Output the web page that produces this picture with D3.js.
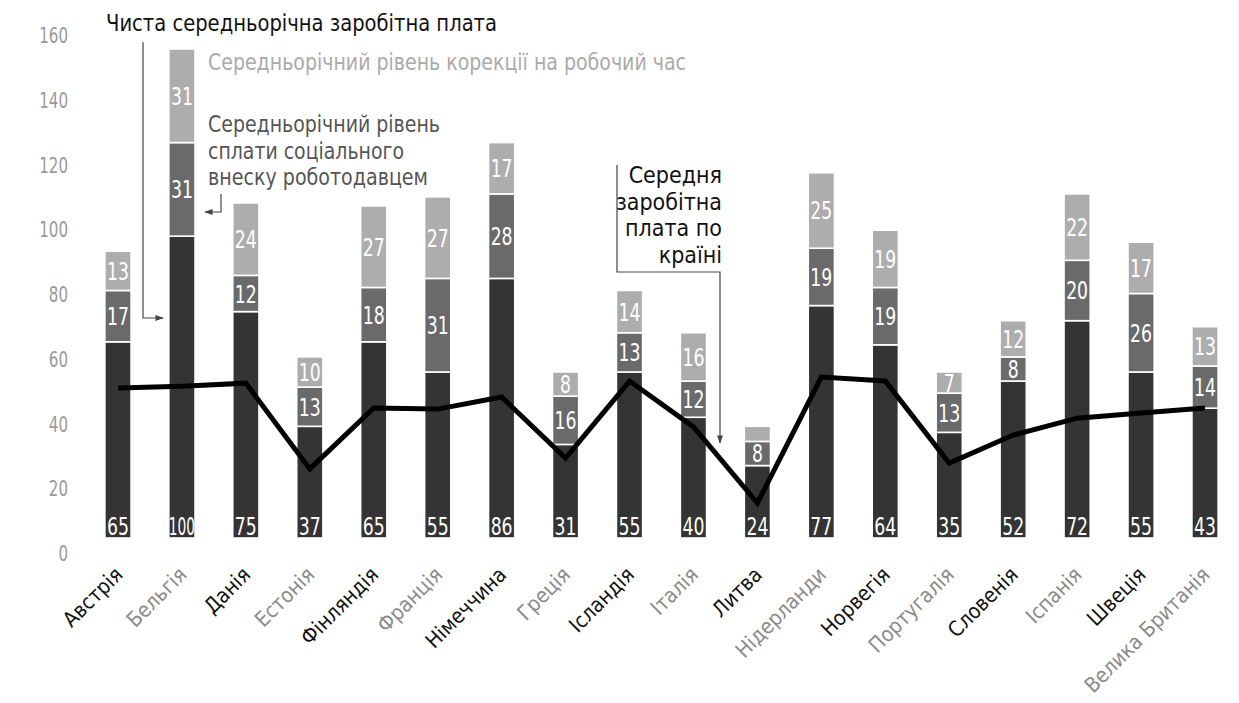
<!DOCTYPE html>
<html>
<head>
<meta charset="utf-8">
<script src="https://cdn.jsdelivr.net/npm/d3@7"></script>
<style>
  html, body { margin: 0; padding: 0; background: #fff; }
  svg { display: block; }
  text { font-family: "DejaVu Sans Condensed", "Liberation Sans Narrow", sans-serif; font-stretch: condensed; }
</style>
</head>
<body>
<svg id="chart" width="1239" height="703"></svg>
<script>
const countries = ["Австрія","Бельгія","Данія","Естонія","Фінляндія","Франція","Німеччина","Греція","Ісландія","Італія","Литва","Нідерланди","Норвегія","Португалія","Словенія","Іспанія","Швеція","Велика Британія"];
const netWage   = [65,100,75,37,65,55,86,31,55,40,24,77,64,35,52,72,55,43];
const socialContribution = [17,31,12,13,18,31,28,16,13,12,8,19,19,13,8,20,26,14];
const hoursCorrection    = [13,31,24,10,27,27,17,8,14,16,5,25,19,7,12,22,17,13];
const countryAverageWage = [49.7,50.3,51.3,22.9,43.1,42.7,46.7,26.5,52.0,36.8,11.6,53.3,52.0,24.8,34.1,39.7,41.4,43.1];
const yTicks = [0,20,40,60,80,100,120,140,160];

const seriesKeys = ["net","social","hours"];
const seriesColors = {net:"#333433", social:"#6a6a6a", hours:"#adadad"};

const rows = countries.map((c,i)=>({country:c, net:netWage[i], social:socialContribution[i], hours:hoursCorrection[i], avg:countryAverageWage[i]}));

const svg = d3.select("#chart");

const x = d3.scaleBand().domain(countries).range([86,1237]).paddingInner(0.59).paddingOuter(0.295);
const y = d3.scaleLinear().domain([0,162]).range([538,49]);       // marks
const yAxisScale = d3.scaleLinear().domain([0,160]).range([553,35]); // printed tick labels

// y axis labels
const yAxis = d3.axisLeft(yAxisScale).tickValues(yTicks).tickSize(0).tickPadding(0);
const gy = svg.append("g").attr("transform","translate(68,0)").call(yAxis);
gy.select(".domain").remove();
gy.selectAll("text")
  .attr("fill","#9a9a9a")
  .style("font-size","21px")
  .style("font-family",'"DejaVu Sans Condensed",sans-serif')
  .attr("dy","0.36em")
  .each(function(d){ d3.select(this).attr("textLength", String(d).length*9.6).attr("lengthAdjust","spacingAndGlyphs"); });

// stacked bars
const stack = d3.stack().keys(seriesKeys);
const stacked = stack(rows);

const gBars = svg.append("g");
stacked.forEach(layer=>{
  const key = layer.key;
  gBars.append("g").selectAll("rect").data(layer).join("rect")
    .attr("x", d=>x(d.data.country))
    .attr("width", x.bandwidth())
    .attr("y", d=>y(d[1]))
    .attr("height", d=>y(d[0])-y(d[1]))
    .attr("fill", seriesColors[key])
    .attr("stroke","#fff").attr("stroke-width",1.6);
});

// line
const line = d3.line().x(d=>x(d.country)+x.bandwidth()/2).y(d=>y(d.avg)).curve(d3.curveLinear);
svg.append("path").datum(rows).attr("d",line).attr("fill","none").attr("stroke","#000").attr("stroke-width",5).attr("stroke-linejoin","miter");

// value labels
const gLab = svg.append("g");
stacked.forEach(layer=>{
  const key = layer.key;
  layer.forEach(d=>{
    const v = d.data[key];
    const h = y(d[0])-y(d[1]);
    if (h < 18) return;
    const cx = x(d.data.country)+x.bandwidth()/2;
    const t = gLab.append("text")
      .attr("x", cx)
      .attr("text-anchor","middle")
      .attr("fill","#fff")
      .style("font-size","25px")
      .text(v);
    if (key==="net") {
      t.attr("y", y(0)-3);
    } else {
      t.attr("y", (y(d[0])+y(d[1]))/2).attr("dy","0.36em");
    }
    const len = Math.min(String(v).length*11, x.bandwidth());
    t.attr("textLength", len).attr("lengthAdjust","spacingAndGlyphs");
  });
});

// x labels
const gx = svg.append("g");
countries.forEach((c,i)=>{
  gx.append("text")
    .attr("transform",`translate(${x(c)+x.bandwidth()/2+6},576) rotate(-45)`)
    .attr("text-anchor","end")
    .attr("fill", i%2===0 ? "#111" : "#8a8a8a")
    .style("font-size","21px")
    .text(c);
});

// annotations
const defs = svg.append("defs");
defs.append("marker").attr("id","arr").attr("viewBox","0 0 10 10").attr("refX",9).attr("refY",5)
  .attr("markerWidth",7).attr("markerHeight",7).attr("orient","auto-start-reverse")
  .append("path").attr("d","M0,1.5 L10,5 L0,8.5 Z").attr("fill","#444");

function fitText(sel, w){ sel.attr("textLength", w).attr("lengthAdjust","spacingAndGlyphs"); return sel; }

fitText(svg.append("text").attr("x",106).attr("y",31).attr("fill","#111").style("font-size","23px")
  .text("Чиста середньорічна заробітна плата"), 391);
svg.append("path").attr("d","M143,42 V318 H163").attr("fill","none").attr("stroke","#444").attr("stroke-width",1.2).attr("marker-end","url(#arr)");

fitText(svg.append("text").attr("x",208).attr("y",70).attr("fill","#aaa").style("font-size","23px")
  .text("Середньорічний рівень корекції на робочий час"), 478);

const socialLines = [["Середньорічний рівень",232],["сплати соціального",196],["внеску роботодавцем",220]];
socialLines.forEach((l,i)=>{
  fitText(svg.append("text").attr("x",208).attr("y",132+i*26.5).attr("fill","#555").style("font-size","23px").text(l[0]), l[1]);
});
svg.append("path").attr("d","M221,194 V212 H205").attr("fill","none").attr("stroke","#444").attr("stroke-width",1.2).attr("marker-end","url(#arr)");

const avgLines = ["Середня","заробітна","плата по","країні"];
avgLines.forEach((l,i)=>{
  svg.append("text").attr("x",722).attr("y",183+i*26.7).attr("text-anchor","end").attr("fill","#111").style("font-size","23px").text(l);
});
svg.append("path").attr("d","M617,165 V272 H720 V443").attr("fill","none").attr("stroke","#444").attr("stroke-width",1.2).attr("marker-end","url(#arr)");
</script>
</body>
</html>
